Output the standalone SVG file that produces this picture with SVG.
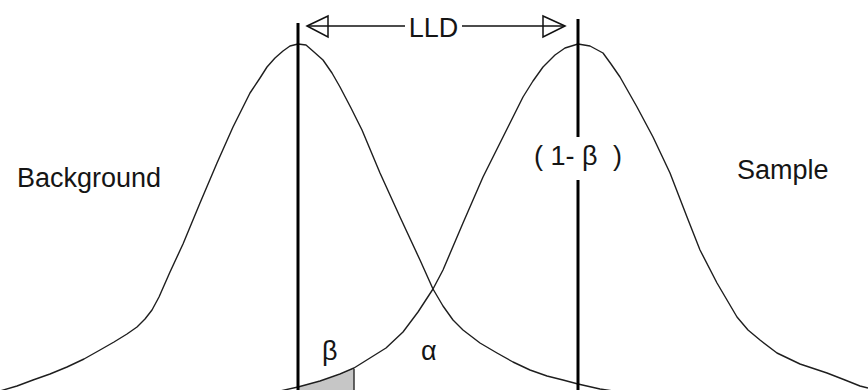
<svg xmlns="http://www.w3.org/2000/svg" width="868" height="390" viewBox="0 0 868 390">
  <style>
    .lbl { font-family: "Liberation Sans", Arial, sans-serif; font-size: 27px; fill: #151515; }
    .curve { fill: none; stroke: #1e1e1e; stroke-width: 1.4; stroke-linejoin: round; }
    .vline { stroke: #000; stroke-width: 3; }
    .arrow { fill: none; stroke: #111; stroke-width: 1.5; }
  </style>
  <rect width="868" height="390" fill="#fff"/>

  <g id="beta-area">
    <polygon points="298,390 298,387 320,381 340,375 354,369 354,390" fill="#c6c6c6"/>
    <line x1="354" y1="369" x2="354" y2="390" stroke="#333" stroke-width="1.5"/>
  </g>

  <g id="background-curve">
    <polyline class="curve" points="0,391 17,386 33,380 50,374 67,367 84,359 100,350 114,342 127,334 137,327 145,319 152,310 159,297 170,272 183,244 200,203 217,163 233,127 250,93 260,78 267,67 275,58 283,51 290,46 298,44 306,45 314,52 323,60 332,73 340,87 351,108 362,130 380,173 400,217 420,260 433,289 443,306 453,320 463,330 480,343 497,353 513,362 530,370 547,376 563,380 578,384 600,389 620,392"/>
  </g>

  <g id="sample-curve">
    <polyline class="curve" points="260,395 280,391 298,387 320,381 340,374 354,368 370,358 386,348 403,332 418,312 433,289 443,270 463,223 483,177 503,137 513,117 523,97 533,81 543,67 555,55 565,48 578,44 590,46 603,53 611,64 620,77 637,107 653,137 670,173 687,217 700,250 717,283 737,317 748,330 760,340 777,353 800,364 827,373 845,380 860,386 868,388"/>
  </g>

  <g id="threshold-line">
    <line class="vline" x1="298" y1="23" x2="298" y2="390"/>
  </g>

  <g id="sample-mean-line">
    <line class="vline" x1="578" y1="19" x2="578" y2="137"/>
    <line class="vline" x1="578" y1="180" x2="578" y2="390"/>
  </g>

  <g id="connectors">
    <line class="arrow" x1="307" y1="26" x2="405" y2="26"/>
    <line class="arrow" x1="462" y1="26" x2="565" y2="26"/>
    <polygon class="arrow" points="307,26 328,16 328,37"/>
    <polygon class="arrow" points="565,26 543,16 543,37"/>
  </g>

  <g id="labels">
    <text class="lbl" x="433.5" y="36.5" text-anchor="middle">LLD</text>
    <text class="lbl" x="17" y="187">Background</text>
    <text class="lbl" x="737" y="178.5">Sample</text>
    <text class="lbl" x="534" y="165">( 1- β<tspan x="613">)</tspan></text>
    <text class="lbl" x="322" y="360">β</text>
    <text class="lbl" x="421" y="360">α</text>
  </g>
</svg>
